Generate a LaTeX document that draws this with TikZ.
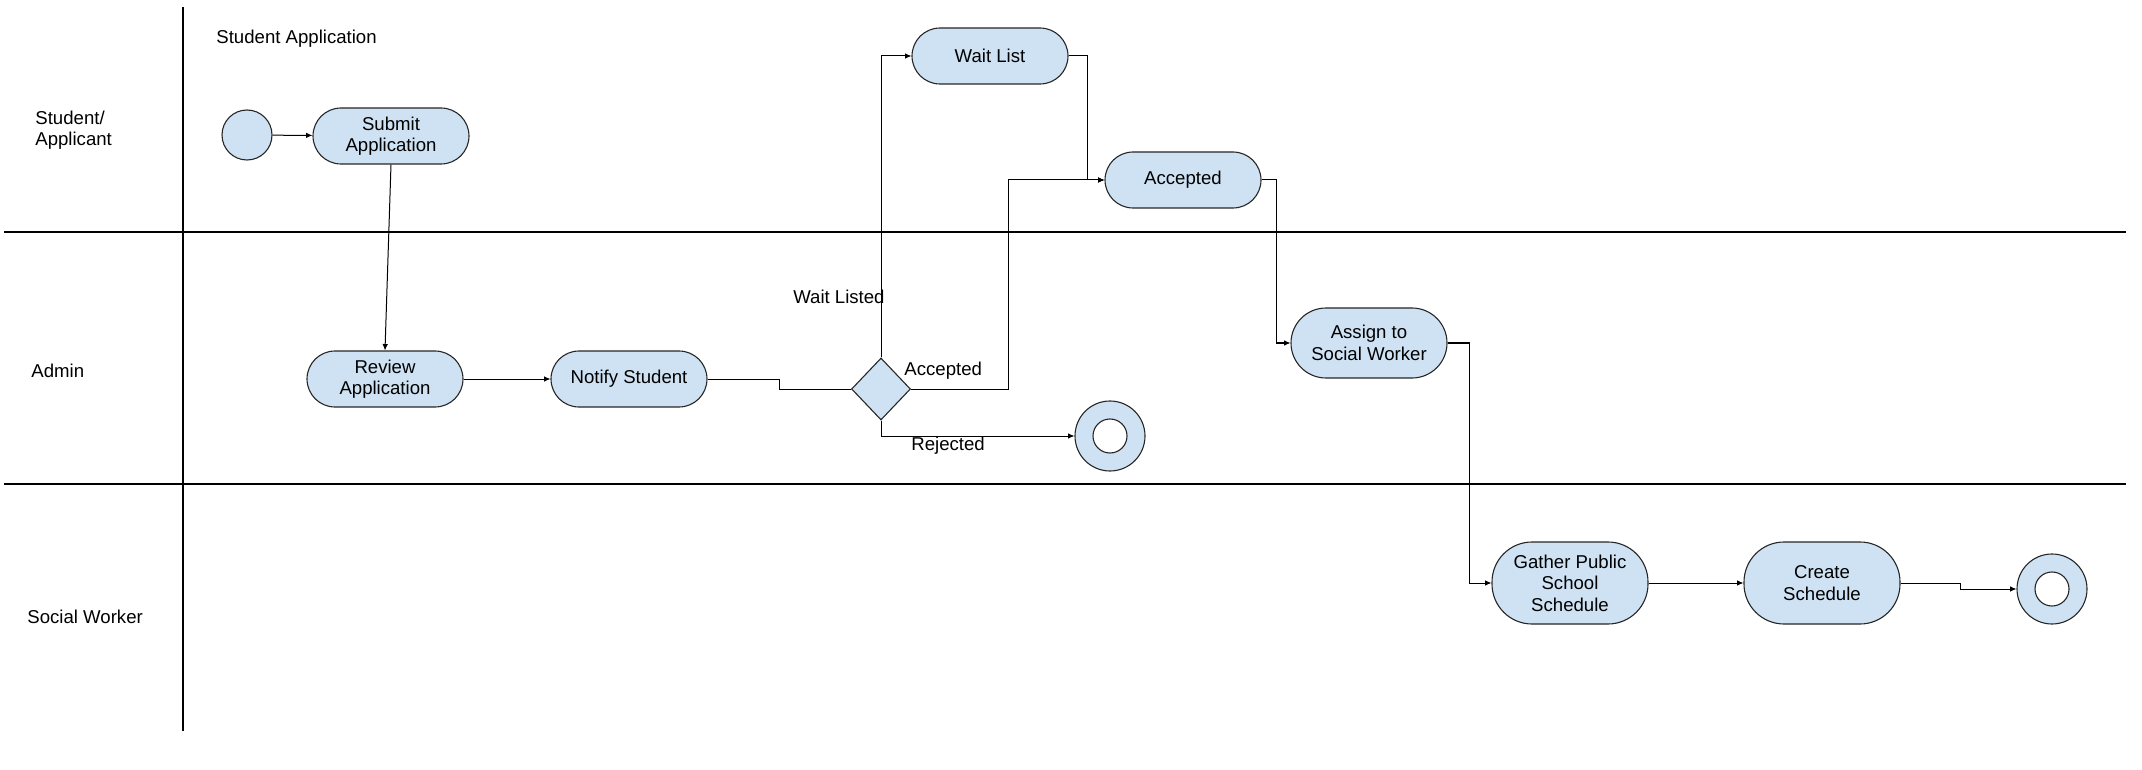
\documentclass[tikz,border=0pt]{standalone}
\usepackage{fontspec}
\setmainfont{Liberation Sans}
\usetikzlibrary{shapes.geometric,arrows.meta}
\definecolor{actfill}{HTML}{CFE2F3}
\begin{document}
\begin{tikzpicture}[x=0.5pt,y=-0.5pt,
  every node/.style={font=\fontsize{9.3}{10.8}\selectfont},
  act/.style={draw=black!85, fill=actfill, line width=0.55pt, rounded corners=14pt,
    minimum width=78pt, minimum height=28pt, align=center, inner sep=2pt},
  tall/.style={minimum height=35pt, rounded corners=17.5pt},
  taller/.style={minimum height=41pt, rounded corners=20pt},
  startdot/.style={circle, draw=black!85, fill=actfill, line width=0.55pt, minimum size=25pt, inner sep=0pt},
  endouter/.style={circle, draw=black!85, fill=actfill, line width=0.55pt, minimum size=35pt, inner sep=0pt},
  endinner/.style={circle, draw=black!85, fill=white, line width=0.55pt, minimum size=17pt, inner sep=0pt},
  decision/.style={diamond, draw=black!85, fill=actfill, line width=0.55pt, minimum width=29.5pt, minimum height=31pt, inner sep=0pt},
  lane/.style={line width=0.6pt, black},
  flow/.style={line width=0.5pt, black, -{Latex[length=3.2pt,width=2.8pt]}},
  plainflow/.style={line width=0.5pt, black},
  lbl/.style={inner sep=0pt}
]
\useasboundingbox (0,0) rectangle (2142,770);

% swimlane separators
\coordinate (vtop) at (183,7);
\coordinate (vbot) at (183,731);
\coordinate (h1l) at (4,232);
\coordinate (h1r) at (2126,232);
\coordinate (h2l) at (4,484);
\coordinate (h2r) at (2126,484);
\draw[lane] (vtop) -- (vbot);
\draw[lane] (h1l) -- (h1r);
\draw[lane] (h2l) -- (h2r);

% lane titles
\node[lbl, anchor=west] (title) at (216,39) {Student Application};
\node[lbl, anchor=west, align=left] (laneA) at (35,130) {Student/\\Applicant};
\node[lbl, anchor=west] (laneB) at (31,371) {Admin};
\node[lbl, anchor=west] (laneC) at (27,617) {Social Worker};

% activities
\node[startdot] (start) at (247,135) {};
\node[act] (submit) at (391,136) {Submit\\Application};
\node[act] (review) at (385,379) {Review\\Application};
\node[act] (notify) at (629,379) {Notify Student};
\node[decision] (dec) at (881,389) {};
\node[act] (wait) at (990,56) {Wait List};
\node[act] (acc) at (1183,180) {Accepted};
\node[endouter] (rej) at (1110,436) {};
\node[endinner] (rejin) at (1110,436) {};
\node[act, tall] (assign) at (1369,343) {Assign to\\Social Worker};
\node[act, taller] (gather) at (1570,583) {Gather Public\\School\\Schedule};
\node[act, taller] (create) at (1822,583) {Create\\Schedule};
\node[endouter] (fin) at (2052,589) {};
\node[endinner] (finin) at (2052,589) {};

% flows
\draw[flow] (start) -- (submit);
\draw[flow] (submit.south) -- (review.north);
\draw[flow] (review) -- (notify);
\draw[plainflow] (notify.east) -- ++(72,0) |- (dec.west);
\draw[flow] (dec.north) |- (wait.west);
\draw[flow] (dec.east) -- ++(97,0) |- (acc.west);
\draw[flow] (wait.east) -- ++(19,0) |- (acc.west);
\draw[flow] (dec.south) |- (rej.west);
\draw[flow] (acc.east) -- ++(15,0) |- (assign.west);
\draw[flow] (assign.east) -- ++(22,0) |- (gather.west);
\draw[flow] (gather) -- (create);
\draw[flow] (create.east) -- ++(60,0) |- (fin.west);

% branch labels
\node[lbl, anchor=east] (lwait) at (885,297) {Wait Listed};
\node[lbl, anchor=west] (lacc) at (904,371) {Accepted};
\node[lbl, anchor=west] (lrej) at (911,446) {Rejected};
\end{tikzpicture}
\end{document}
